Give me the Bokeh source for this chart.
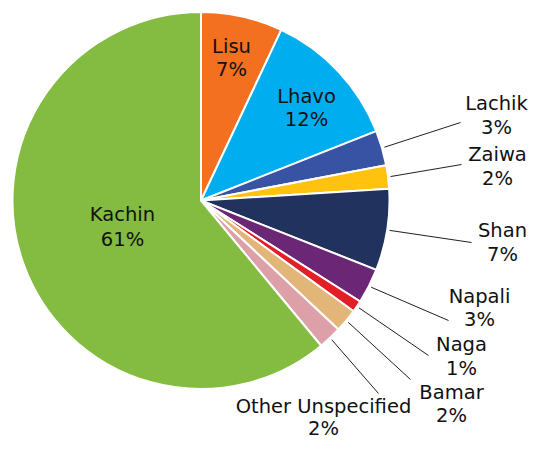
import math
from bokeh.plotting import figure
from bokeh.models import Range1d, ColumnDataSource
from bokeh.core.properties import value
from bokeh.embed import file_html
from bokeh.resources import INLINE

# ---- data (clockwise from 12 o'clock) ----
groups = ["Lisu", "Lhavo", "Lachik", "Zaiwa", "Shan", "Napali", "Naga",
          "Bamar", "Other Unspecified", "Kachin"]
shares = [7, 12, 3, 2, 7, 3, 1, 2, 2, 61]
colors = ["#F37021", "#00AEEF", "#3953A4", "#FFC20E", "#21325E", "#6B2776",
          "#E21F26", "#E2B679", "#DDA0A8", "#84BB41"]

# ---- layout (pixel positions of labels, from top-left of the figure) ----
H = 456
name_pos = {
    "Lisu": (231, 46), "Lhavo": (306, 96), "Kachin": (122, 214),
    "Lachik": (496, 103), "Zaiwa": (497, 154), "Shan": (502, 230),
    "Napali": (479, 296), "Naga": (461, 344), "Bamar": (451, 392),
    "Other Unspecified": (323, 406),
}
pct_pos = {
    "Lisu": (231, 69), "Lhavo": (306, 119), "Kachin": (122, 239),
    "Lachik": (496, 127), "Zaiwa": (497, 178), "Shan": (502, 254),
    "Napali": (479, 319), "Naga": (461, 368), "Bamar": (451, 415),
    "Other Unspecified": (323, 428),
}
leader_end = {
    "Lachik": (460, 122), "Zaiwa": (461, 164), "Shan": (471, 242),
    "Napali": (448, 320), "Naga": (428, 355), "Bamar": (410, 379),
    "Other Unspecified": (378, 393),
}
CX, CY, R = 200.5, 200.0, 188.5

W, HH = 529, 440
p = figure(width=W, height=HH, output_backend="svg", toolbar_location=None,
           x_range=Range1d(0, W), y_range=Range1d(H - HH, H),
           min_border=0, outline_line_color=None)
p.axis.visible = False
p.grid.visible = False
p.background_fill_color = "white"
p.border_fill_color = "white"

total = float(sum(shares))
starts, ends, mids = [], [], []
cum = 0.0
for v in shares:
    a0 = cum / total
    cum += v
    a1 = cum / total
    starts.append(math.pi / 2 - 2 * math.pi * a1)
    ends.append(math.pi / 2 - 2 * math.pi * a0)
    mids.append(2 * math.pi * (a0 + a1) / 2)  # clockwise from top

src = ColumnDataSource(dict(x=[CX] * len(shares), y=[H - CY] * len(shares),
                            start=starts, end=ends, color=colors))
p.wedge(x="x", y="y", radius=R, start_angle="start", end_angle="end",
        direction="anticlock", fill_color="color", line_color="white",
        line_width=2, source=src)

# leader lines
x0s, y0s, x1s, y1s = [], [], [], []
for g, m in zip(groups, mids):
    if g in leader_end:
        x0s.append(CX + (R + 2.5) * math.sin(m))
        y0s.append(H - (CY - (R + 2.5) * math.cos(m)))
        ex, ey = leader_end[g]
        x1s.append(ex)
        y1s.append(H - ey)
p.segment(x0=x0s, y0=y0s, x1=x1s, y1=y1s, line_color="#231F20", line_width=1)

# labels
font = value("DejaVu Sans")
nx = [name_pos[g][0] for g in groups]
ny = [H - name_pos[g][1] for g in groups]
px = [pct_pos[g][0] for g in groups]
py = [H - pct_pos[g][1] for g in groups]
pct = [f"{v}%" for v in shares]
p.text(x=nx, y=ny, text=groups, text_font=font, text_font_size="19.5px",
       text_align="center", text_baseline="middle", text_color="#111111")
p.text(x=px, y=py, text=pct, text_font=font, text_font_size="19.5px",
       text_align="center", text_baseline="middle", text_color="#111111")

open("out.html", "w").write(file_html(p, INLINE))
